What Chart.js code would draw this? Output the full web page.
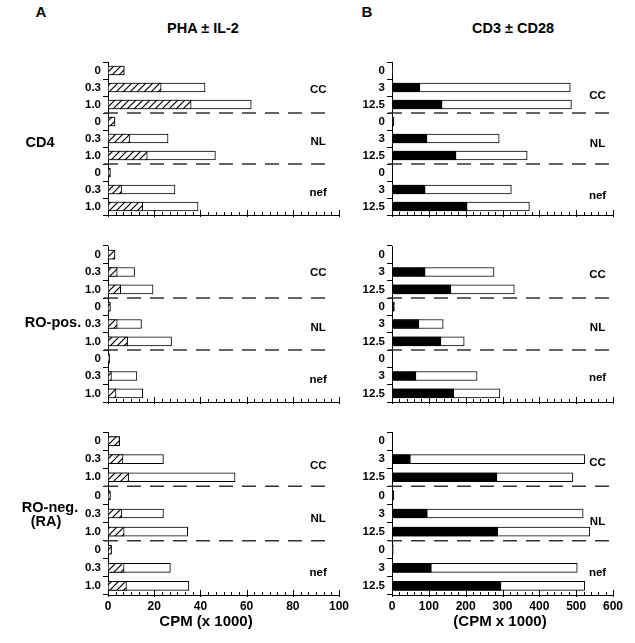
<!DOCTYPE html>
<html>
<head>
<meta charset="utf-8">
<script src="https://cdn.jsdelivr.net/npm/chart.js@4.4.0/dist/chart.umd.min.js"></script>
<style>
  body { margin: 0; background: #fff; }
  #page { position: relative; width: 635px; height: 643px; overflow: hidden; background: #fff;
          font-family: "Liberation Sans", Arial, Helvetica, sans-serif; color: #000; }
  canvas { position: absolute; }
  .lbl { position: absolute; white-space: nowrap; font-weight: bold; line-height: 1;
         transform: translate(-50%, -50%); }
</style>
</head>
<body>
<div id="page">
  <canvas id="a1" width="360" height="190" style="left:0;top:40px"></canvas>
  <canvas id="a2" width="360" height="180" style="left:0;top:232px"></canvas>
  <canvas id="a3" width="360" height="223" style="left:0;top:420px"></canvas>
  <canvas id="b1" width="275" height="190" style="left:360px;top:40px"></canvas>
  <canvas id="b2" width="275" height="180" style="left:360px;top:232px"></canvas>
  <canvas id="b3" width="275" height="223" style="left:360px;top:420px"></canvas>

  <div class="lbl" style="left:41px;top:11px;font-size:15px">A</div>
  <div class="lbl" style="left:367px;top:11px;font-size:15px">B</div>
  <div class="lbl" style="left:203px;top:28px;font-size:14.5px">PHA ± IL-2</div>
  <div class="lbl" style="left:513px;top:28px;font-size:14.5px">CD3 ± CD28</div>
  <div class="lbl" style="left:40px;top:142px;font-size:14.5px">CD4</div>
  <div class="lbl" style="left:53px;top:322px;font-size:14.5px">RO-pos.</div>
  <div class="lbl" style="left:50px;top:507px;font-size:14.5px">RO-neg.</div>
  <div class="lbl" style="left:46px;top:521px;font-size:14.5px">(RA)</div>
  <div class="lbl" style="left:206px;top:620px;font-size:15px">CPM (x 1000)</div>
  <div class="lbl" style="left:500px;top:620px;font-size:15px">(CPM x 1000)</div>
</div>

<script>
// row labels (stimulus dose) and groups
const doseA = ['0', '0.3', '1.0', '0', '0.3', '1.0', '0', '0.3', '1.0'];
const doseB = ['0', '3', '12.5', '0', '3', '12.5', '0', '3', '12.5'];
const groupNames = ['CC', 'NL', 'nef'];

// A: PHA alone (hatched part) and PHA + IL-2 (whole bar), CPM x 1000
const cd4Pha       = [7, 23, 36, 3, 9.5, 17, 1, 6, 15];
const cd4PhaIl2    = [7, 42, 62, 3, 26, 46.5, 1, 29, 39];
const roPosPha     = [3, 4, 5.5, 1, 4, 8.5, 0.7, 1.5, 3.5];
const roPosPhaIl2  = [3, 11.5, 19.5, 1, 14.5, 27.5, 0.7, 12.5, 15];
const roNegPha     = [5, 6.5, 9, 1, 6, 7, 1.5, 7, 8];
const roNegPhaIl2  = [5, 24, 55, 1, 24, 34.5, 1.5, 27, 35];

// B: CD3 alone (black part) and CD3 + CD28 (whole bar), CPM x 1000
const cd4Cd3       = [2, 76, 136, 5, 95, 174, 0, 90, 204];
const cd4Cd3Cd28   = [2, 484, 487, 5, 291, 367, 0, 324, 373];
const roPosCd3     = [0, 90, 160, 6, 73, 133, 0, 65, 168];
const roPosCd3Cd28 = [0, 277, 332, 6, 139, 196, 0, 231, 293];
const roNegCd3     = [0, 50, 285, 5, 96, 287, 3, 107, 296];
const roNegCd3Cd28 = [0, 523, 491, 5, 519, 537, 3, 503, 523];

const FONT = '"Liberation Sans", Arial, Helvetica, sans-serif';

// diagonal hatch fill
function makeHatch() {
    const c = document.createElement('canvas');
    c.width = 7; c.height = 7;
    const g = c.getContext('2d');
    g.fillStyle = '#fff';
    g.fillRect(0, 0, 7, 7);
    g.strokeStyle = '#000';
    g.lineWidth = 1.2;
    g.beginPath();
    g.moveTo(-1, 8); g.lineTo(8, -1);
    g.moveTo(-1, 1); g.lineTo(1, -1);
    g.moveTo(6, 8); g.lineTo(8, 6);
    g.stroke();
    return g.createPattern(c, 'repeat');
}

// minor / major tick marks on the value axis, pointing up
const axisTicks = {
    id: 'axisTicks',
    afterDraw(chart, args, opts) {
        const { ctx, chartArea, scales: { x } } = chart;
        const n = Math.round(x.max / opts.minor);
        ctx.save();
        ctx.strokeStyle = '#000';
        ctx.lineWidth = 1;
        for (let i = 0; i <= n; i++) {
            const px = Math.round(x.getPixelForValue(i * opts.minor)) + 0.5;
            const major = i % opts.per === 0;
            ctx.beginPath();
            ctx.moveTo(px, chartArea.bottom + (major ? 2 : 0));
            ctx.lineTo(px, chartArea.bottom - (major ? 5 : 3));
            ctx.stroke();
        }
        ctx.restore();
    }
};

// dashed separators between groups and the group names
const groupDecor = {
    id: 'groupDecor',
    afterDatasetsDraw(chart, args, opts) {
        const { ctx, chartArea, scales: { x, y } } = chart;
        ctx.save();
        ctx.strokeStyle = '#333';
        ctx.lineWidth = 1.5;
        ctx.setLineDash([14, 9]);
        [3, 6].forEach(i => {
            const py = (y.getPixelForValue(i - 1) + y.getPixelForValue(i)) / 2;
            ctx.beginPath();
            ctx.moveTo(chartArea.left - 4, py);
            ctx.lineTo(x.getPixelForValue(opts.dashEnd), py);
            ctx.stroke();
        });
        ctx.setLineDash([]);
        ctx.fillStyle = '#000';
        ctx.font = 'bold 11.5px ' + FONT;
        ctx.textAlign = 'center';
        ctx.textBaseline = 'middle';
        groupNames.forEach((name, k) => {
            ctx.fillText(name, x.getPixelForValue(opts.labelAt), y.getPixelForValue(k * 3 + 1) + opts.shift[k]);
        });
        ctx.restore();
    }
};

function makePanel(id, cfg) {
    const el = document.getElementById(id);
    return new Chart(el, {
        type: 'bar',
        data: {
            labels: cfg.labels,
            datasets: [
                { data: cfg.inner, backgroundColor: cfg.fill, borderColor: '#000', borderWidth: 1,
                  borderSkipped: false, barThickness: 9 },
                { data: cfg.total, backgroundColor: '#fff', borderColor: '#000', borderWidth: 1,
                  borderSkipped: false, barThickness: 9 }
            ]
        },
        options: {
            indexAxis: 'y',
            responsive: false,
            animation: false,
            devicePixelRatio: 1,
            layout: { padding: { top: cfg.padTop, right: cfg.padRight, left: 0, bottom: 0 } },
            plugins: {
                legend: { display: false },
                tooltip: { enabled: false },
                axisTicks: { minor: cfg.minor, per: cfg.per },
                groupDecor: { dashEnd: cfg.dashEnd, labelAt: cfg.labelAt, shift: cfg.shift }
            },
            scales: {
                y: {
                    type: 'category',
                    stacked: true,
                    offset: true,
                    afterFit: s => { s.width = cfg.axisW; },
                    grid: { drawOnChartArea: false, offset: true, tickLength: 5, color: '#000', lineWidth: 1 },
                    border: { display: true, color: '#000', width: 1 },
                    ticks: { autoSkip: false, padding: 2, color: '#000', font: { family: FONT, size: 11.5, weight: 'bold' } }
                },
                x: {
                    type: 'linear',
                    stacked: false,
                    min: 0,
                    max: cfg.max,
                    afterFit: s => { s.height = cfg.axisH; },
                    grid: { display: false, drawTicks: false },
                    border: { display: true, color: '#000', width: 1 },
                    ticks: { display: cfg.showTicks, stepSize: cfg.step, padding: 4, color: '#000',
                             font: { family: FONT, size: 12, weight: 'bold' } }
                }
            }
        },
        plugins: [axisTicks, groupDecor]
    });
}

const hatch = makeHatch();
const colA = { labels: doseA, fill: hatch, max: 100, step: 20, minor: 10 / 3, per: 6,
               axisW: 108, padRight: 21, dashEnd: 94, labelAt: 91 };
const colB = { labels: doseB, fill: '#000', max: 600, step: 100, minor: 20, per: 5,
               axisW: 32, padRight: 22, dashEnd: 596, labelAt: 558 };
const row1 = { padTop: 22, axisH: 15, showTicks: false };
const row2 = { padTop: 14, axisH: 10, showTicks: false };
const row3 = { padTop: 12, axisH: 48, showTicks: true };

makePanel('a1', { ...colA, ...row1, inner: cd4Pha, total: cd4PhaIl2, shift: [2, 3, 3] });
makePanel('a2', { ...colA, ...row2, inner: roPosPha, total: roPosPhaIl2, shift: [1, 4, 4] });
makePanel('a3', { ...colA, ...row3, inner: roNegPha, total: roNegPhaIl2, shift: [7, 5, 5] });
makePanel('b1', { ...colB, ...row1, inner: cd4Cd3, total: cd4Cd3Cd28, shift: [8, 5, 6] });
makePanel('b2', { ...colB, ...row2, inner: roPosCd3, total: roPosCd3Cd28, shift: [3, 4, 2] });
makePanel('b3', { ...colB, ...row3, inner: roNegCd3, total: roNegCd3Cd28, shift: [4, 8, 5] });
</script>
</body>
</html>
